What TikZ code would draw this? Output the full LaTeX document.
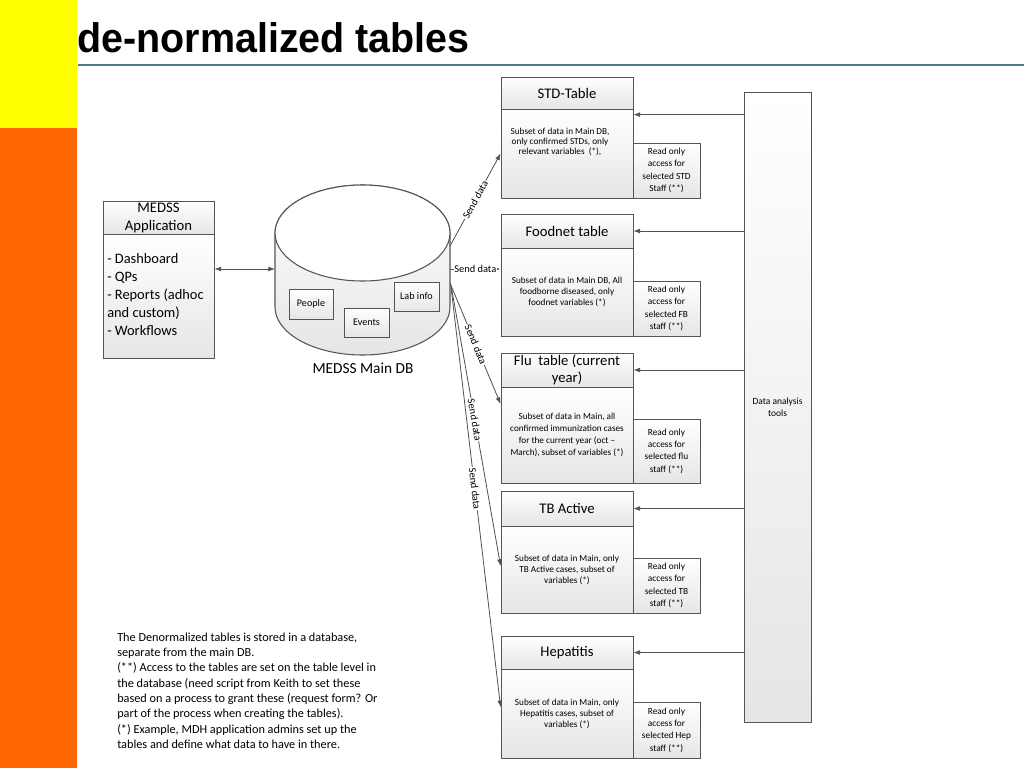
\documentclass[tikz,border=0pt]{standalone}
\usepackage{fontspec}
\setmainfont{Carlito}
\newfontfamily\titlefont{Liberation Sans}
\usetikzlibrary{arrows.meta,shadows,calc}
\definecolor{edge}{HTML}{555555}
\definecolor{conn}{HTML}{505050}
\definecolor{rulec}{HTML}{4F7A86}
\definecolor{stripeY}{HTML}{FFFF00}
\definecolor{stripeO}{HTML}{FF6600}
\begin{document}
\begin{tikzpicture}[x=0.75pt,y=-0.75pt,
  box/.style={draw=edge, line width=0.6pt, top color=white, bottom color=black!10,
    inner sep=0pt,
    drop shadow={shadow xshift=1.1pt, shadow yshift=-1.1pt, opacity=0.25}},
  sz/.style 2 args={minimum width=#1*0.75pt, minimum height=#2*0.75pt},
  head/.style={align=center, font=\fontsize{11}{12.75}\selectfont},
  body/.style={align=center, font=\fontsize{6.9}{8.3}\selectfont},
  ro/.style={align=center, font=\fontsize{7}{9.2}\selectfont},
  small/.style={font=\fontsize{7.6}{9}\selectfont},
  arr/.style={draw=conn, line width=0.6pt, -{Latex[length=5pt,width=3.6pt]}},
  darr/.style={draw=conn, line width=0.6pt, {Latex[length=5pt,width=3.6pt]}-{Latex[length=5pt,width=3.6pt]}},
  lbl/.style={font=\fontsize{7.8}{8}\selectfont, fill=white, inner sep=0.6pt, sloped}
]
\useasboundingbox (0,0) rectangle (1024,768);
\fill[white] (0,0) rectangle (1024,768);
% side stripe
\fill[stripeY] (0,0) rectangle (77,128);
\fill[stripeO] (0,128) rectangle (77,768);
% title
\node[anchor=base west, inner sep=0pt, xscale=0.955] (title) at (77,52)
  {\titlefont\bfseries\fontsize{31}{34}\selectfont de-normalized tables};
\draw[rulec, line width=0.8pt] (78,65) -- (1024,65);

% MEDSS application
\node[box, head, sz={111}{33}, font=\fontsize{11}{13.5}\selectfont] (appH) at (158.5,217.5) {MEDSS\\Application};
\node[box, sz={111}{124}] (appB) at (158.5,296) {};
\node[anchor=west, inner sep=0pt, font=\fontsize{10.8}{13.4}\selectfont] (appT) at (107,296)
  {\begin{tabular}{@{}l@{}}- Dashboard\\- QPs\\- Reports (adhoc\\and custom)\\- Workflows\end{tabular}};

% Main DB cylinder
\shade[top color=white, bottom color=black!10, draw=edge, line width=0.8pt]
  (275,233) -- (275,307) arc[start angle=180, end angle=360, x radius=65.625pt, y radius=36pt]
  -- (450,233) arc[start angle=0, end angle=180, x radius=65.625pt, y radius=36pt] -- cycle;
\draw[edge, line width=0.8pt, fill=white] (362.5,233) ellipse[x radius=65.625pt, y radius=36pt];
\node[box, small, sz={44}{30}] (people) at (311,304) {People};
\node[box, small, sz={45}{29}] (events) at (366.5,322.5) {Events};
\node[box, small, sz={45}{29}] (lab) at (416.5,296.5) {Lab info};
\node[font=\fontsize{11.5}{12}\selectfont, inner sep=0pt] (dbname) at (363,368) {MEDSS Main DB};
\coordinate (dbL) at (275,269);
\coordinate (dbR1) at (450,246);
\coordinate (dbR2) at (450,269);
\coordinate (dbR3) at (450,283);
\coordinate (dbR4) at (451,285);
\coordinate (dbR5) at (451,287);

% STD table
\node[box, head, sz={132}{32}] (stdH) at (567,93) {STD-Table};
\node[box, sz={132}{89}] (stdB) at (567,153.5) {};
\node[inner sep=0pt, align=center, font=\fontsize{6.9}{7.2}\selectfont] (stdT) at (560,142)
  {Subset of data in Main DB,\\only confirmed STDs, only\\relevant variables\ \ (*),};
\node[box, ro, sz={67}{55}] (stdR) at (666.5,170.5) {Read only\\access for\\selected STD\\Staff (**)};

% Foodnet table
\node[box, head, sz={132}{34}] (fnH) at (567,231) {Foodnet table};
\node[box, body, sz={132}{88}] (fnB) at (567,292)
  {Subset of data in Main DB, All\\foodborne diseased, only\\foodnet variables (*)};
\node[box, ro, sz={67}{55}] (fnR) at (666.5,308.5) {Read only\\access for\\selected FB\\staff (**)};

% Flu table
\node[box, head, sz={132}{34}] (fluH) at (567,370) {Flu\ \ table (current\\year)};
\node[box, body, sz={132}{96}, font=\fontsize{6.9}{9.2}\selectfont] (fluB) at (567,435)
  {Subset of data in Main, all\\confirmed immunization cases\\for the current year (oct --\\March), subset of variables (*)};
\node[box, ro, sz={67}{64}] (fluR) at (666.5,451) {Read only\\access for\\selected flu\\staff (**)};

% TB table
\node[box, head, sz={132}{35}] (tbH) at (567,508.5) {TB Active};
\node[box, body, sz={132}{87}] (tbB) at (567,569.5)
  {Subset of data in Main, only\\TB Active cases, subset of\\variables (*)};
\node[box, ro, sz={67}{55}] (tbR) at (666.5,585.5) {Read only\\access for\\selected TB\\staff (**)};

% Hepatitis table
\node[box, head, sz={132}{33}] (hepH) at (567,652.5) {Hepatitis};
\node[box, body, sz={132}{89}] (hepB) at (567,713.5)
  {Subset of data in Main, only\\Hepatitis cases, subset of\\variables (*)};
\node[box, ro, sz={67}{56}] (hepR) at (666.5,730) {Read only\\access for\\selected Hep\\staff (**)};

% Data analysis tools
\node[box, sz={67}{630}, align=center, font=\fontsize{7.1}{9}\selectfont] (da) at (777.5,407) {Data analysis\\tools};

% note
\node[anchor=north west, inner sep=0pt, font=\fontsize{9.2}{11.5}\selectfont] (note) at (117,630)
  {\begin{tabular}{@{}l@{}}The Denormalized tables is stored in a database,\\
   separate from the main DB.\\
   (**) Access to the tables are set on the table level in\\
   the database (need script from Keith to set these\\
   based on a process to grant these (request form? Or\\
   part of the process when creating the tables).\\
   (*) Example, MDH application admins set up the\\
   tables and define what data to have in there.\end{tabular}};

% connectors
\draw[darr] (appB.east |- dbL) -- (dbL);
\draw[arr] (dbR1) -- node[lbl, pos=0.5] {Send data} (stdB.west);
\draw[arr] (dbR2) -- node[lbl, pos=0.5] {Send data} (fnB.west |- dbR2);
\draw[arr] (dbR3) -- node[lbl, pos=0.51] {Send data} ($(fluB.north west)!0.18!(fluB.south west)$);
\draw[arr] (dbR4) -- node[lbl, pos=0.48] {Send data} ($(tbB.north west)!0.46!(tbB.south west)$);
\draw[arr] (dbR5) -- node[lbl, pos=0.48] {Send data} ($(hepB.north west)!0.43!(hepB.south west)$);

\coordinate (stdA) at ([yshift=-4.5pt]stdB.north east);
\draw[arr] (da.west |- stdA) -- (stdA);
\draw[arr] (da.west |- fnH.east) -- (fnH.east);
\draw[arr] (da.west |- fluH.east) -- (fluH.east);
\draw[arr] (da.west |- tbH.east) -- (tbH.east);
\draw[arr] (da.west |- hepH.east) -- (hepH.east);
\end{tikzpicture}
\end{document}
